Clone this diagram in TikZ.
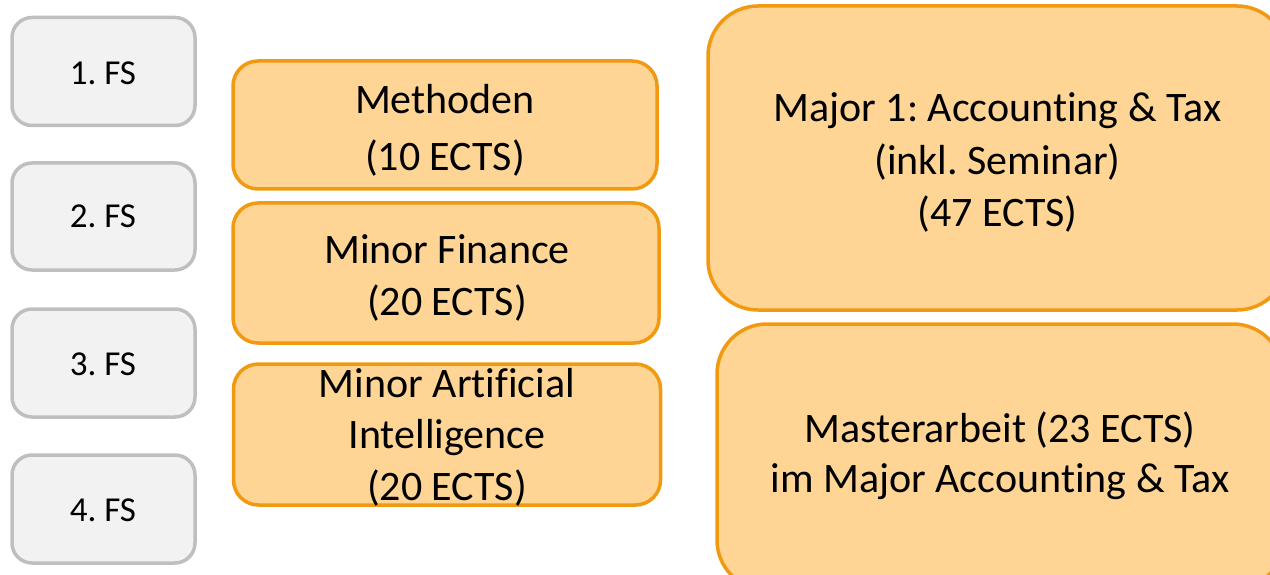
\documentclass[tikz,border=0pt]{standalone}
\usepackage{fontspec}
\setmainfont{Carlito}[Ligatures={NoCommon}]
\frenchspacing
\definecolor{grayfill}{RGB}{242,242,242}
\definecolor{grayline}{RGB}{191,191,191}
\definecolor{orfill}{RGB}{254,213,148}
\definecolor{orline}{RGB}{242,153,18}
\newcommand{\mylines}[3]{{\fontsize{#1}{#2}\selectfont\begin{tabular}[t]{@{}c@{}}#3\end{tabular}}}
\begin{document}
\begin{tikzpicture}[x=1pt,y=-1pt,
  graybox/.style={draw=grayline, fill=grayfill, line width=3.5pt, rounded corners=20pt, inner sep=0pt, minimum width=183pt},
  orbox/.style={draw=orline, fill=orfill, line width=3.5pt, rounded corners=25pt, inner sep=0pt},
  bigbox/.style={orbox, rounded corners=50pt},
  lbl/.style={anchor=base, inner sep=0pt, text=black}]
\useasboundingbox (0,0) rectangle (1270,575);
% semester boxes
\node[graybox, minimum height=108pt] (fs1) at (103.5,71.5) {};
\node[graybox, minimum height=107pt] (fs2) at (103.5,216.5) {};
\node[graybox, minimum height=108pt] (fs3) at (103.5,363) {};
\node[graybox, minimum height=108pt] (fs4) at (103.5,509) {};
\node[lbl] (t1) at (103,85) {\fontsize{35}{40}\selectfont 1. FS};
\node[lbl] (t2) at (103,228) {\fontsize{35}{40}\selectfont 2. FS};
\node[lbl] (t3) at (103,375) {\fontsize{35}{40}\selectfont 3. FS};
\node[lbl] (t4) at (103,521) {\fontsize{35}{40}\selectfont 4. FS};
% middle column
\node[orbox, minimum width=424pt, minimum height=128pt] (meth) at (445,125) {};
\node[orbox, minimum width=426pt, minimum height=140pt] (fin) at (446,273) {};
\node[orbox, minimum width=427pt, minimum height=141pt] (ai) at (447,434.5) {};
\node[lbl] (tmeth) at (445,114) {\mylines{42}{57}{Methoden\\(10 ECTS)}};
\node[lbl] (tfin) at (447,263) {\mylines{42}{52}{Minor Finance\\(20 ECTS)}};
\node[lbl] (tai) at (447,397) {\mylines{42}{51.5}{Minor Artificial\\Intelligence\\(20 ECTS)}};
% right column
\node[bigbox, minimum width=579pt, minimum height=304pt] (major) at (997.5,158) {};
\node[bigbox, minimum width=566pt, minimum height=266pt] (master) at (1000,457) {};
\node[lbl] (tmajor) at (997.5,122) {\mylines{42}{52.5}{Major 1: Accounting \& Tax\\(inkl. Seminar)\\(47 ECTS)}};
\node[lbl] (tmaster) at (1000,442) {\mylines{42}{50}{Masterarbeit (23 ECTS)\\im Major Accounting \& Tax}};
\end{tikzpicture}
\end{document}
